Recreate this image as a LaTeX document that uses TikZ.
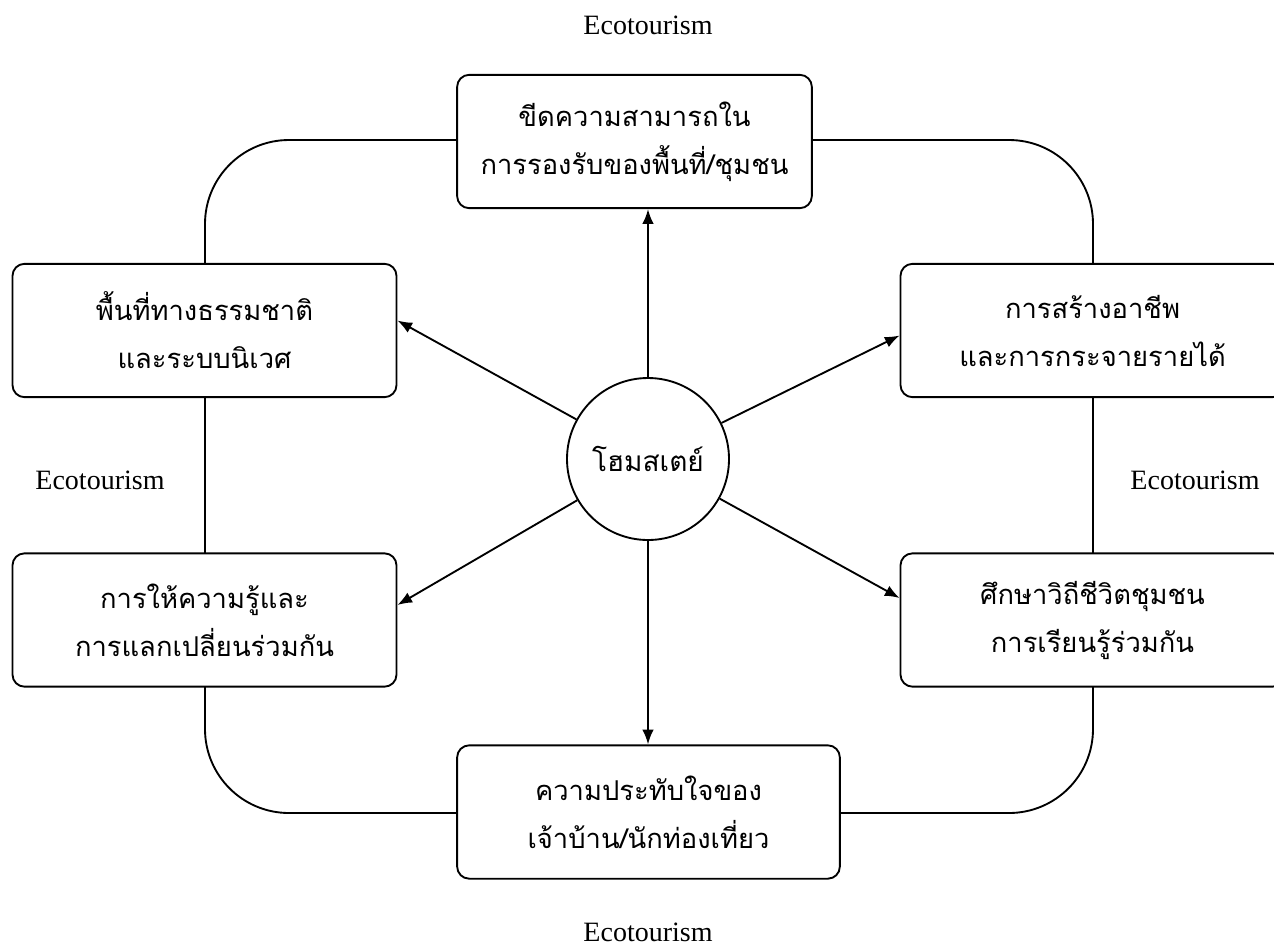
\documentclass[tikz,border=0pt]{standalone}
\usepackage{fontspec}
\setmainfont{Liberation Serif}
\newfontfamily\thaifont[Script=Thai]{Loma}
\usetikzlibrary{arrows.meta,calc}
\begin{document}
\begin{tikzpicture}[x=0.75pt,y=-0.75pt,
  box/.style={draw,line width=1.4pt,rounded corners=9pt,fill=white,
    minimum width=288pt,minimum height=100pt,align=center,
    font=\thaifont\fontsize{20.5}{36}\selectfont},
  hubnode/.style={draw,circle,line width=1.4pt,fill=white,minimum size=121.5pt,
    inner sep=0pt,font=\thaifont\fontsize{21}{36}\selectfont},
  arr/.style={line width=1.4pt,-{Latex[length=11pt,width=8.5pt]}},
  loop/.style={line width=1.4pt,rounded corners=63pt},
  lbl/.style={font=\fontsize{21}{25}\selectfont}]
\useasboundingbox (0,0) rectangle (1274,951);
% frame loop
\coordinate (c1) at (205,140);
\coordinate (c2) at (1093,140);
\coordinate (c3) at (1093,813);
\coordinate (c4) at (205,813);
\draw[loop] (640,140) -- (c1) -- (c4) -- (c3) -- (c2) -- cycle;
% boxes
\node[box,minimum width=266pt] (top) at (634.5,141.5) {ขีดความสามารถใน\\การรองรับของพื้นที่/ชุมชน};
\node[box,minimum width=287pt] (bot) at (648.5,812) {ความประทับใจของ\\เจ้าบ้าน/นักท่องเที่ยว};
\node[box] (lt) at (204.5,330.5) {พื้นที่ทางธรรมชาติ\\และระบบนิเวศ};
\node[box] (lb) at (204.5,620) {การให้ความรู้และ\\การแลกเปลี่ยนร่วมกัน};
\node[box] (rt) at (1092.5,330.5) {การสร้างอาชีพ\\และการกระจายรายได้};
\node[box] (rb) at (1092.5,620) {ศึกษาวิถีชีวิตชุมชน\\การเรียนรู้ร่วมกัน};
\node[hubnode] (hub) at (648,459) {โฮมสเตย์};
% arrows
\draw[arr] (hub.north) -- (hub.north |- top.south);
\draw[arr] (hub.south) -- (hub.south |- bot.north);
\draw[arr] (hub) -- ($(lt.east)+(0,-10)$);
\draw[arr] (hub) -- ($(lb.east)+(0,-15)$);
\draw[arr] (hub) -- ($(rt.west)+(0,5)$);
\draw[arr] (hub) -- ($(rb.west)+(0,-22)$);
% labels
\node[lbl] (l1) at (648,25) {Ecotourism};
\node[lbl] (l2) at (100,480) {Ecotourism};
\node[lbl] (l3) at (1195,480) {Ecotourism};
\node[lbl] (l4) at (648,932) {Ecotourism};
\end{tikzpicture}
\end{document}
